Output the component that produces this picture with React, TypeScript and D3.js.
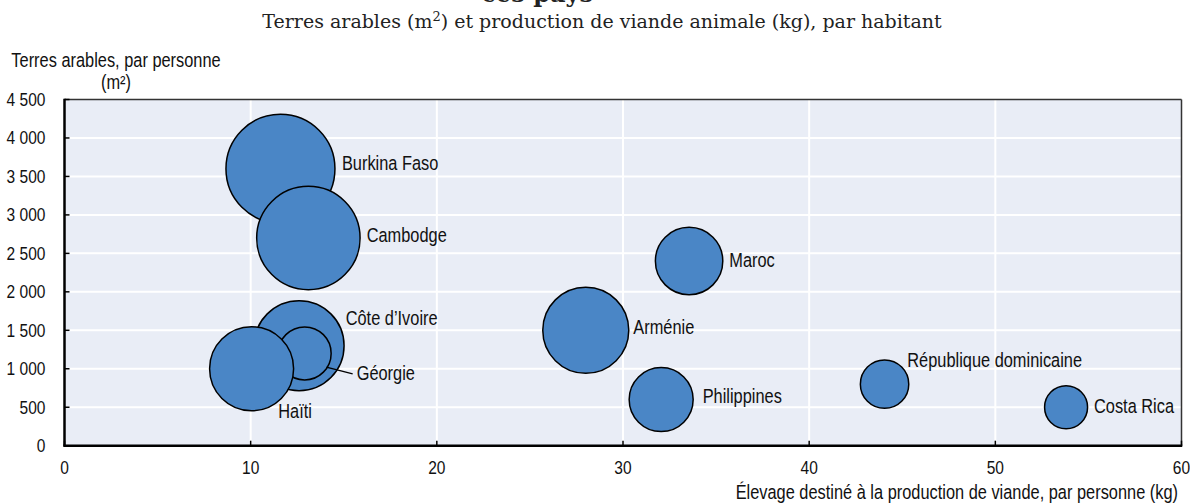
import React from "react";
import * as d3 from "d3";

// ---- Data ----
const pays = [
  "Burkina Faso",
  "Cambodge",
  "Côte d’Ivoire",
  "Géorgie",
  "Haïti",
  "Arménie",
  "Maroc",
  "Philippines",
  "République dominicaine",
  "Costa Rica",
];
const viandeKg = [11.6, 13.1, 12.6, 12.9, 10.05, 28.0, 33.55, 32.05, 44.05, 53.8];
const terresM2 = [3600, 2700, 1300, 1200, 1000, 1500, 2400, 600, 800, 500];
const taille = [2970, 2673, 2025, 702, 1764, 1849, 1136, 1024, 586, 462];
const xTicks = [0, 10, 20, 30, 40, 50, 60];
const yTicks = [0, 500, 1000, 1500, 2000, 2500, 3000, 3500, 4000, 4500];

// ---- Layout (label offsets relative to bubble centre) ----
const labelOffsets: Record<string, [number, number]> = {
  "Burkina Faso": [61.5, 1.3],
  Cambodge: [58.3, 3.7],
  "Côte d’Ivoire": [46.6, -20.7],
  Géorgie: [52, 26.6],
  Haïti: [26.7, 48.9],
  Arménie: [47.5, 4],
  Maroc: [40.2, 5.6],
  Philippines: [41.5, 3.8],
  "République dominicaine": [22.7, -17.5],
  "Costa Rica": [27.9, 6.1],
};

const W = 1190;
const H = 503;
const left = 64.5;
const right = 1181.5;
const top = 99.5;
const bottom = 445.7;

const FONT = "'Liberation Sans', Arial, sans-serif";
const SQ = 0.84;

const fr = d3.formatLocale({ decimal: ",", thousands: "\u00a0", grouping: [3], currency: ["", ""] });
const fmt = fr.format(",d");

function NText(props: { x: number; y: number; anchor?: string; size: number; dy?: string; children: React.ReactNode }) {
  return (
    <text
      transform={`translate(${props.x},${props.y}) scale(${SQ},1)`}
      textAnchor={props.anchor || "start"}
      dy={props.dy}
      fontFamily={FONT}
      fontSize={props.size}
      fill="#111"
    >
      {props.children}
    </text>
  );
}

export default function App() {
  const x = d3.scaleLinear().domain([0, 60]).range([left, right]);
  const y = d3.scaleLinear().domain([0, 4500]).range([bottom, top]);
  const r = d3.scaleSqrt().domain([0, d3.max(taille) as number]).range([0, 54.5]);

  const data = pays.map((p, i) => ({ p, vx: viandeKg[i], vy: terresM2[i], s: taille[i] }));

  const geo = data.find((d) => d.p === "Géorgie")!;
  const gcx = x(geo.vx);
  const gcy = y(geo.vy);
  const gr = r(geo.s);

  return (
    <svg width={W} height={H} style={{ position: "absolute", left: 0, top: 0, background: "#fff" }}>
      {/* cut-off title */}
      <text x={593} y={2} textAnchor="end" fontFamily="'DejaVu Serif', serif" fontWeight="bold" fontSize={24} fill="#222">
        ces pays
      </text>
      <text x={602} y={28} textAnchor="middle" fontFamily="'DejaVu Serif', serif" fontSize={19} fill="#222">
        Terres arables (m<tspan dy={-7} fontSize={13}>2</tspan><tspan dy={7}>) et production de viande animale (kg), par habitant</tspan>
      </text>

      {/* plot background */}
      <rect x={left} y={top} width={right - left} height={bottom - top} fill="#e9edf6" />

      {/* grid */}
      {yTicks.filter((t) => t > 0 && t < 4500).map((t) => (
        <line key={"gy" + t} x1={left} x2={right} y1={y(t)} y2={y(t)} stroke="#fff" strokeWidth={2} />
      ))}
      {xTicks.filter((t) => t > 0 && t < 60).map((t) => (
        <line key={"gx" + t} x1={x(t)} x2={x(t)} y1={top} y2={bottom} stroke="#fff" strokeWidth={2} />
      ))}

      {/* frame */}
      <line x1={left} x2={right} y1={top} y2={top} stroke="#333" strokeWidth={1.5} />
      <line x1={right} x2={right} y1={top} y2={bottom} stroke="#333" strokeWidth={1.5} />

      {/* ticks */}
      {yTicks.map((t) => (
        <line key={"ty" + t} x1={left} x2={left + 5} y1={y(t)} y2={y(t)} stroke="#000" strokeWidth={1.5} />
      ))}
      {xTicks.map((t) => (
        <line key={"tx" + t} x1={x(t)} x2={x(t)} y1={bottom} y2={bottom - 5} stroke="#000" strokeWidth={1.5} />
      ))}

      {/* bubbles */}
      {data.map((d) => (
        <circle key={d.p} cx={x(d.vx)} cy={y(d.vy)} r={r(d.s)} fill="#4a86c6" stroke="#000" strokeWidth={1.5} />
      ))}

      {/* leader for Géorgie */}
      <line
        x1={gcx + gr * 0.82}
        y1={gcy + gr * 0.52}
        x2={gcx + 48}
        y2={gcy + 20.6}
        stroke="#000"
        strokeWidth={1.3}
      />

      {/* axes */}
      <line x1={left} x2={left} y1={top - 0.75} y2={bottom} stroke="#000" strokeWidth={2.5} />
      <line x1={left - 1.25} x2={right + 0.75} y1={bottom} y2={bottom} stroke="#000" strokeWidth={2.5} />

      {/* bubble labels */}
      {data.map((d) => {
        const [dx, dy] = labelOffsets[d.p];
        return (
          <NText key={"l" + d.p} x={x(d.vx) + dx} y={y(d.vy) + dy} size={19.5}>
            {d.p}
          </NText>
        );
      })}

      {/* tick labels */}
      {yTicks.map((t) => (
        <NText key={"yl" + t} x={45.5} y={y(t)} dy="0.35em" anchor="end" size={18.5}>
          {fmt(t)}
        </NText>
      ))}
      {xTicks.map((t) => (
        <NText key={"xl" + t} x={x(t)} y={474} anchor="middle" size={18.5}>
          {t}
        </NText>
      ))}

      {/* axis titles */}
      <NText x={116} y={66.5} anchor="middle" size={19.5}>
        Terres arables, par personne
      </NText>
      <NText x={116} y={89} anchor="middle" size={19.5}>
        (m²)
      </NText>
      <NText x={1178} y={499} anchor="end" size={19.5}>
        Élevage destiné à la production de viande, par personne (kg)
      </NText>
    </svg>
  );
}
